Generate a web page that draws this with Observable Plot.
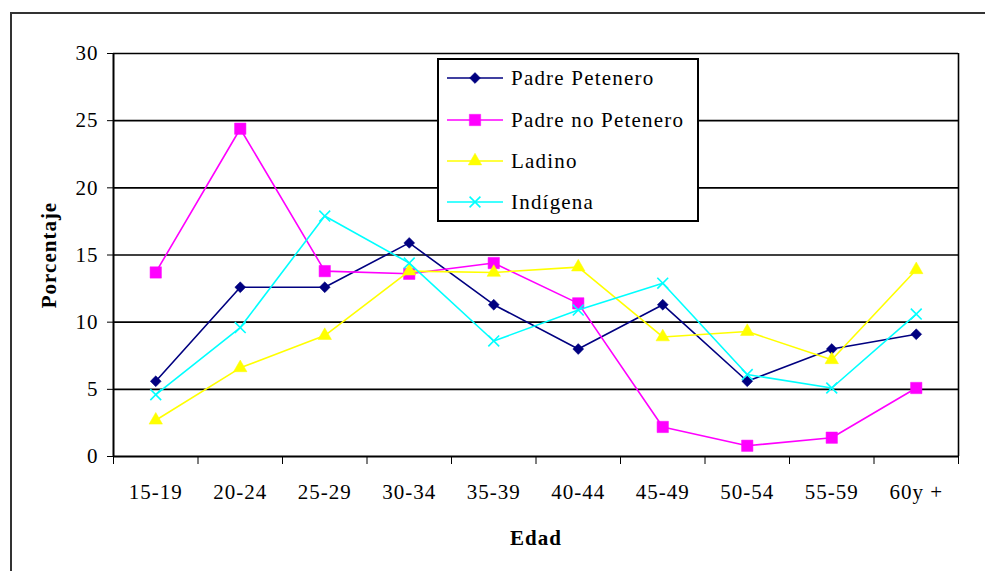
<!DOCTYPE html>
<html><head><meta charset="utf-8">
<script src="https://cdn.jsdelivr.net/npm/d3@7"></script>
<script src="https://cdn.jsdelivr.net/npm/@observablehq/plot@0.6"></script>
<style>
body{margin:0;background:#fff;}
#wrap{position:relative;width:985px;height:571px;overflow:hidden;font-family:"Liberation Serif","Times New Roman",serif;}
#border{position:absolute;left:10px;top:12px;width:1000px;height:620px;border:2px solid #333;box-sizing:border-box;}
#chart{position:absolute;left:0;top:0;}
#legend{position:absolute;left:437px;top:58px;width:262px;height:164px;border:2px solid #000;background:#fff;box-sizing:border-box;}
.row{position:absolute;left:8px;height:30px;display:flex;align-items:center;}
.row svg{width:58px;height:30px;flex:none;}
.row span{margin-left:6px;font-size:21px;letter-spacing:1.2px;color:#000;white-space:nowrap;}
</style></head>
<body>
<div id="wrap"><div id="border"></div><div id="chart"></div><div id="legend"></div></div>
<script>
const categories = ["15-19","20-24","25-29","30-34","35-39","40-44","45-49","50-54","55-59","60y +"];
const padrePetenero   = [5.6, 12.6, 12.6, 15.9, 11.3, 8.0, 11.3, 5.6, 8.0, 9.1];
const padreNoPetenero = [13.7, 24.4, 13.8, 13.6, 14.4, 11.4, 2.2, 0.8, 1.4, 5.1];
const ladino          = [2.7, 6.6, 9.0, 13.8, 13.7, 14.1, 8.9, 9.3, 7.2, 13.9];
const indigena        = [4.6, 9.6, 17.9, 14.4, 8.6, 10.9, 12.9, 6.1, 5.1, 10.6];
const yTicks = [0, 5, 10, 15, 20, 25, 30];
const seriesNames = ["Padre Petenero", "Padre no Petenero", "Ladino", "Indígena"];

const series = [
  {name: seriesNames[0], values: padrePetenero,   color: "#000080", symbol: "diamond2", r: 4.9, fill: true},
  {name: seriesNames[1], values: padreNoPetenero, color: "#FF00FF", symbol: "square",   r: 6.4, fill: true},
  {name: seriesNames[2], values: ladino,          color: "#FFFF00", symbol: "triangle", r: 5.0, fill: true},
  {name: seriesNames[3], values: indigena,        color: "#00FFFF", symbol: "times",    r: 5.0, fill: false}
];

const n = categories.length;
const marks = [
  Plot.gridY({ticks: yTicks.filter(d => d > 0), stroke: "#000", strokeOpacity: 1, strokeWidth: 1.6}),
  Plot.ruleX([n], {stroke: "#000", strokeWidth: 1.6}),
  Plot.axisY({ticks: yTicks, tickSize: 6, tickPadding: 9, tickFormat: d => String(d), label: null, stroke: "#000"}),
  Plot.axisX({ticks: d3.range(n + 1), tickSize: 8, tickFormat: () => "", label: null}),
  Plot.axisX({ticks: d3.range(n).map(i => i + 0.5), tickSize: 0, tickPadding: 28, tickFormat: d => categories[Math.floor(d)], label: null}),
  Plot.ruleY([0], {stroke: "#000", strokeWidth: 2}),
  Plot.ruleX([0], {stroke: "#000", strokeWidth: 2}),
  Plot.text(["Porcentaje"], {frameAnchor: "left", rotate: -90, dx: -64, textAnchor: "middle", lineAnchor: "middle", fontWeight: "bold", fontSize: 21}),
  Plot.text(["Edad"], {frameAnchor: "bottom", dy: 82, textAnchor: "middle", lineAnchor: "middle", fontWeight: "bold", fontSize: 21})
];
for (const s of series) {
  const rows = s.values.map((v, i) => ({xi: i + 0.5, v}));
  marks.push(Plot.line(rows, {x: "xi", y: "v", stroke: s.color, strokeWidth: 1.6}));
  marks.push(Plot.dot(rows, {x: "xi", y: "v", symbol: () => s.symbol, r: s.r,
    fill: s.fill ? s.color : "none", stroke: s.color, strokeWidth: s.fill ? 0.5 : 1.6}));
}

const chart = Plot.plot({
  width: 985, height: 571,
  marginLeft: 113, marginRight: 27, marginTop: 53, marginBottom: 115,
  style: {fontFamily: '"Liberation Serif","Times New Roman",serif', fontSize: "21px", color: "#000", background: "transparent", letterSpacing: "1px"},
  x: {domain: [0, n]},
  y: {domain: [0, 30]},
  marks
});
document.getElementById("chart").appendChild(chart);

// legend
const legend = document.getElementById("legend");
const symMap = {diamond2: d3.symbolDiamond2, square: d3.symbolSquare, triangle: d3.symbolTriangle, times: d3.symbolTimes};
const rowTops = [3, 45, 86, 127];
series.forEach((s, i) => {
  const row = document.createElement("div");
  row.className = "row";
  row.style.top = rowTops[i] + "px";
  const svg = d3.create("svg").attr("viewBox", "0 0 58 30");
  svg.append("line").attr("x1", 0).attr("x2", 56).attr("y1", 15).attr("y2", 15).attr("stroke", s.color).attr("stroke-width", 1.6);
  svg.append("path").attr("transform", "translate(28,15)")
    .attr("d", d3.symbol(symMap[s.symbol], Math.PI * s.r * s.r)())
    .attr("fill", s.fill ? s.color : "none").attr("stroke", s.color).attr("stroke-width", s.fill ? 0.5 : 1.6);
  row.appendChild(svg.node());
  const span = document.createElement("span");
  span.textContent = s.name;
  row.appendChild(span);
  legend.appendChild(row);
});
</script>
</body></html>
